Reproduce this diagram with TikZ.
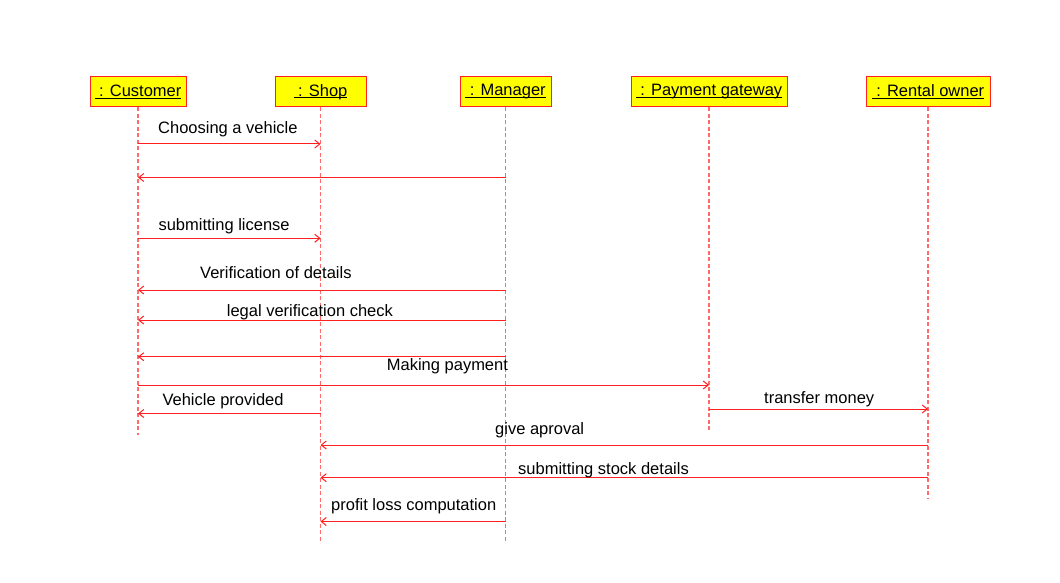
\documentclass[tikz,border=0pt]{standalone}
\usepackage{fontspec}
\setmainfont{Liberation Sans}
\usetikzlibrary{arrows.meta}
\definecolor{lred}{HTML}{FF6A6A}
\definecolor{mred}{HTML}{FF2020}
\definecolor{hyel}{HTML}{FFFF00}
\newcommand\myul[1]{\setbox0\hbox{#1}\rlap{\rule[-2.2pt]{\wd0}{1pt}}\box0}
\tikzset{
  head/.style={draw=mred, line width=1pt, fill=hyel, minimum height=30pt, inner sep=0pt,
    font=\fontsize{16.5}{20}\selectfont},
  life/.style={draw=lred, line width=1.3pt, dash pattern=on 4pt off 2.5pt},
  msg/.style={draw=mred, line width=1pt, -{Straight Barb[length=5pt,width=8pt]}},
  lbl/.style={anchor=base west, inner sep=0pt, font=\fontsize{16.5}{20}\selectfont}
}
\begin{document}
\begin{tikzpicture}[x=1pt,y=-1pt]
\useasboundingbox (0,0) rectangle (1060,583);
% heads
\node[head, minimum width=96pt] (cust) at (138,92) {\myul{\ : Customer}};
\node[head, minimum width=91pt] (shop) at (320.5,92) {\myul{\ : Shop}};
\node[head, minimum width=91pt] (mgr) at (505.5,92) {\myul{\ : Manager}};
\node[head, minimum width=156pt] (pay) at (709,92) {\myul{\ : Payment gateway}};
\node[head, minimum width=124pt] (rent) at (928,92) {\myul{\ : Rental owner}};
% lifeline ends
\coordinate (custE) at (138,435);
\coordinate (shopE) at (320.5,543);
\coordinate (mgrE) at (505.5,543);
\coordinate (payE) at (709,431);
\coordinate (rentE) at (928,499);
\draw[life] (cust.south) -- (custE);
\draw[life] (shop.south) -- (shopE);
\draw[life] (mgr.south) -- (mgrE);
\draw[life] (pay.south) -- (payE);
\draw[life] (rent.south) -- (rentE);
% messages
\draw[msg] (cust |- 0,144) -- (shop |- 0,144);
\node[lbl] (l1) at (158,133.3) {Choosing a vehicle};
\draw[msg] (mgr |- 0,177.5) -- (cust |- 0,177.5);
\draw[msg] (cust |- 0,238.3) -- (shop |- 0,238.3);
\node[lbl] (l3) at (158.3,230.7) {submitting license};
\draw[msg] (mgr |- 0,290) -- (cust |- 0,290);
\node[lbl] (l4) at (200,278) {Verification of details};
\draw[msg] (mgr |- 0,320) -- (cust |- 0,320);
\node[lbl] (l5) at (226.7,316.7) {legal verification check};
\draw[msg] (mgr |- 0,356.7) -- (cust |- 0,356.7);
\draw[msg] (cust |- 0,385) -- (pay |- 0,385);
\node[lbl] (l7) at (386.7,370.7) {Making payment};
\draw[msg] (shop |- 0,413.5) -- (cust |- 0,413.5);
\node[lbl] (l8) at (162.3,405) {Vehicle provided};
\draw[msg] (pay |- 0,409) -- (rent |- 0,409);
\node[lbl] (l9) at (764,403) {transfer money};
\draw[msg] (rent |- 0,445) -- (shop |- 0,445);
\node[lbl] (l10) at (495,434) {give aproval};
\draw[msg] (rent |- 0,477.7) -- (shop |- 0,477.7);
\node[lbl] (l11) at (518,474.3) {submitting stock details};
\draw[msg] (mgr |- 0,521.5) -- (shop |- 0,521.5);
\node[lbl] (l12) at (331,510) {profit loss computation};
\end{tikzpicture}
\end{document}
